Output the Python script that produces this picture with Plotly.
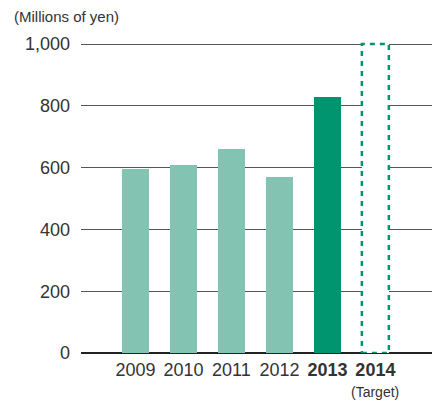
import plotly.graph_objects as go

# Yearly values (millions of yen); the last year is a target
years = ["2009", "2010", "2011", "2012", "2013", "2014"]
values = [595, 608, 660, 570, 828, 1000]
tick_labels = ["2009", "2010", "2011", "2012", "<b>2013</b>", "<b>2014</b>"]
y_ticks = [0, 200, 400, 600, 800, 1000]
y_tick_labels = ["0", "200", "400", "600", "800", "1,000"]

LIGHT = "#82c3b1"
DARK = "#00956f"
BAR_W = 0.5625
FONT = "Liberation Sans, Arial, sans-serif"

fill_colors = [LIGHT, LIGHT, LIGHT, LIGHT, DARK, "white"]

fig = go.Figure()
fig.add_trace(go.Bar(
    x=list(range(len(years))),
    y=values,
    width=BAR_W,
    marker=dict(color=fill_colors, line=dict(width=0)),
    hoverinfo="skip",
))

# Dashed outline for the target year
ti = len(years) - 1
fig.add_shape(
    type="rect", xref="x", yref="y",
    x0=ti - BAR_W / 2, x1=ti + BAR_W / 2, y0=0, y1=values[ti],
    line=dict(color=DARK, width=2.5, dash="5px,5px"),
    fillcolor="rgba(0,0,0,0)", layer="above",
)

fig.add_annotation(
    text="(Millions of yen)", xref="paper", yref="paper",
    x=-81 / 351, y=1, xanchor="left", yanchor="bottom",
    yshift=-14, xshift=12, showarrow=False,
    font=dict(family=FONT, size=15, color="#333333"),
)
fig.add_annotation(
    text="(Target)", xref="x", yref="paper",
    x=ti, y=0, xanchor="center", yanchor="top", yshift=-29,
    showarrow=False, font=dict(family=FONT, size=14, color="#333333"),
)

fig.update_layout(
    width=432, height=401,
    margin=dict(l=81, r=0, t=13, b=48),
    paper_bgcolor="white", plot_bgcolor="white",
    showlegend=False,
    bargap=0,
)
fig.update_xaxes(
    range=[-1.135, 6.18],
    tickmode="array", tickvals=list(range(len(years))), ticktext=tick_labels,
    tickfont=dict(family=FONT, size=18, color="#333333"),
    showgrid=False, zeroline=False,
    showline=False, ticks="", ticklabelstandoff=4,
)
fig.update_yaxes(
    range=[0, 340 / 309 * 1000],
    tickmode="array", tickvals=y_ticks, ticktext=y_tick_labels,
    tickfont=dict(family=FONT, size=18, color="#333333"),
    showgrid=True, gridcolor="#555555", gridwidth=1,
    zeroline=True, zerolinecolor="#222222", zerolinewidth=1.5,
    showline=False, ticks="", ticklabelstandoff=10,
)

fig.write_html("out.html")
